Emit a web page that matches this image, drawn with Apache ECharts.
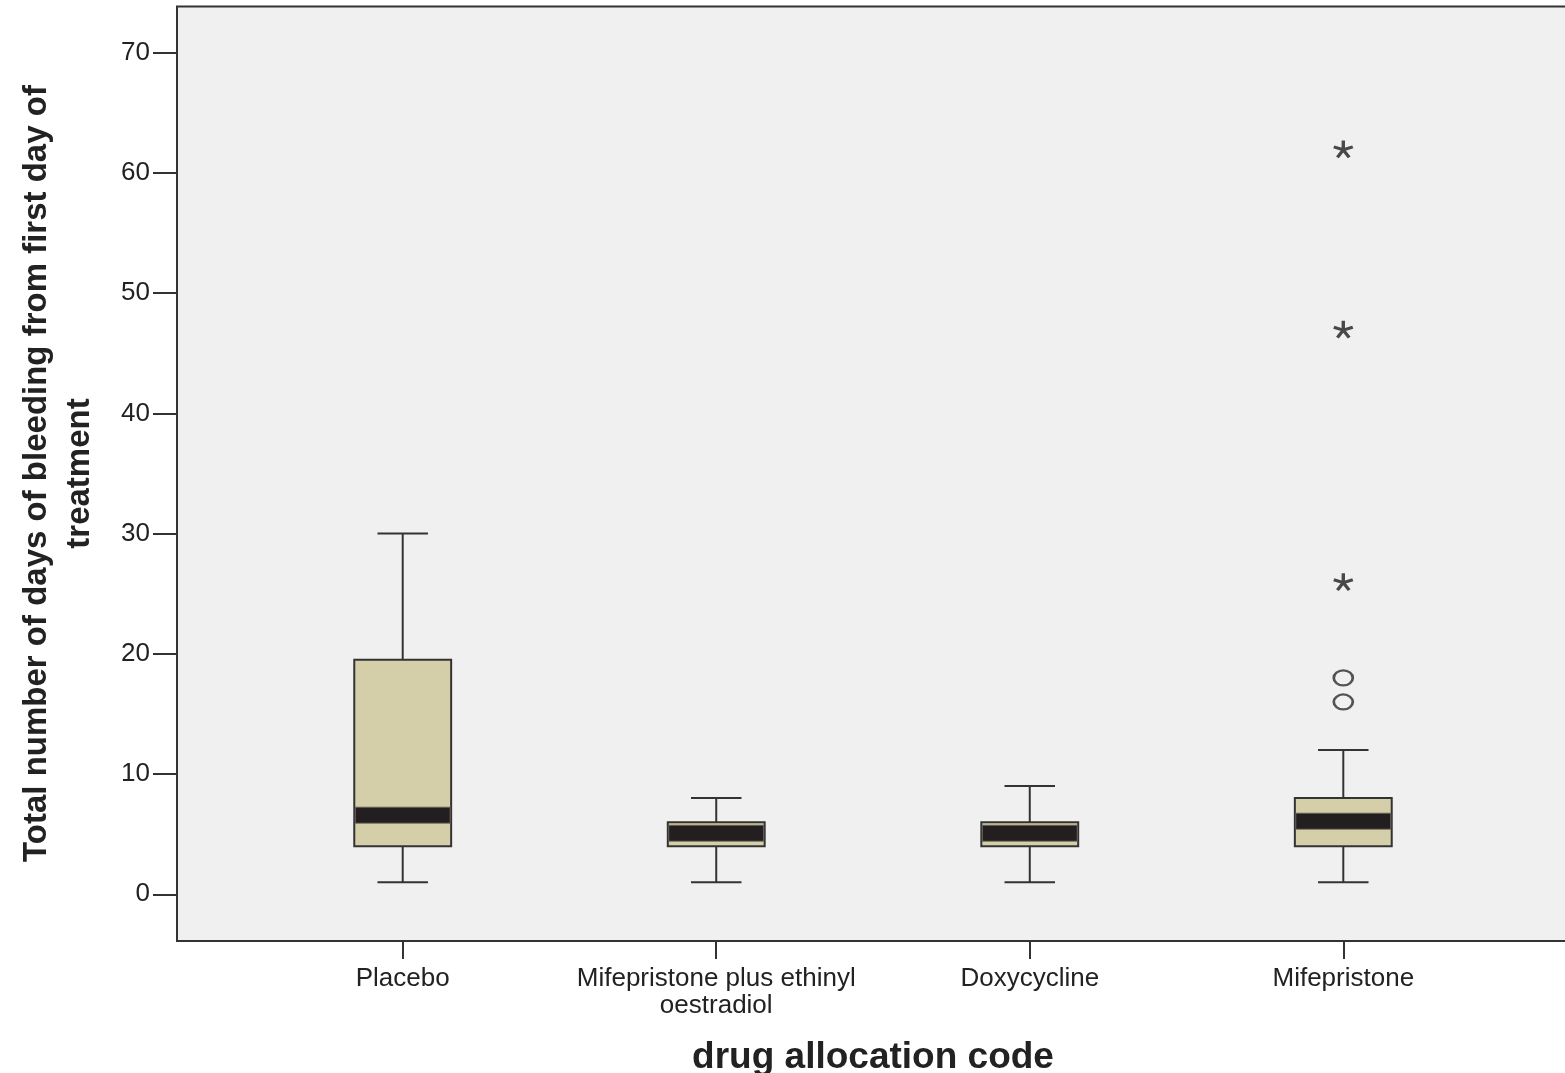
<!DOCTYPE html>
<html>
<head>
<meta charset="utf-8">
<script src="https://cdn.jsdelivr.net/npm/echarts@6/dist/echarts.min.js"></script>
<style>
  html, body { margin: 0; padding: 0; background: #ffffff; }
  #chart { width: 1565px; height: 1073px; }
</style>
</head>
<body>
<div id="chart"></div>
<script>
// ---- data ----
const categories = ['Placebo', 'Mifepristone plus ethinyl\noestradiol', 'Doxycycline', 'Mifepristone'];
const whiskerLow = [1, 1, 1, 1];
const q1 = [4, 4, 4, 4];
const median = [6.5, 5, 5, 6];
const q3 = [19.5, 6, 6, 8];
const whiskerHigh = [30, 8, 9, 12];
// outliers (category index, value)
const outlierCircles = [[3, 18], [3, 16]];
const outlierStars = [[3, 26], [3, 47], [3, 62]];
const yTicks = { min: 0, max: 70, interval: 10 };

const boxData = categories.map((c, i) => [i, whiskerLow[i], q1[i], median[i], q3[i], whiskerHigh[i]]);

const LINE = '#333333';
const TEXT = '#222222';
const FONT = '"Liberation Sans", Arial, sans-serif';

function renderBox(params, api) {
  const x = api.value(0);
  const pLow = api.coord([x, api.value(1)]);
  const pQ1 = api.coord([x, api.value(2)]);
  const pMed = api.coord([x, api.value(3)]);
  const pQ3 = api.coord([x, api.value(4)]);
  const pHigh = api.coord([x, api.value(5)]);
  const band = api.size([1, 0])[0];
  const boxW = band * 0.309;
  const capW = band * 0.161;
  const cx = pLow[0];
  const ls = { stroke: LINE, lineWidth: 2 };
  return {
    type: 'group',
    children: [
      { type: 'line', shape: { x1: cx, y1: pLow[1], x2: cx, y2: pQ1[1] }, style: ls },
      { type: 'line', shape: { x1: cx, y1: pQ3[1], x2: cx, y2: pHigh[1] }, style: ls },
      { type: 'line', shape: { x1: cx - capW / 2, y1: pLow[1], x2: cx + capW / 2, y2: pLow[1] }, style: ls },
      { type: 'line', shape: { x1: cx - capW / 2, y1: pHigh[1], x2: cx + capW / 2, y2: pHigh[1] }, style: ls },
      { type: 'rect', shape: { x: cx - boxW / 2, y: pQ3[1], width: boxW, height: pQ1[1] - pQ3[1] },
        style: { fill: '#d5cfa9', stroke: LINE, lineWidth: 2 } },
      { type: 'rect', shape: { x: cx - boxW / 2 + 1, y: pMed[1] - 9, width: boxW - 2, height: 16 },
        style: { fill: '#231f20', stroke: '#6b6658', lineWidth: 0.8 } }
    ]
  };
}

const starPath = 'path://M10,10L10,0M10,10L19.51,6.91M10,10L15.88,18.09M10,10L4.12,18.09M10,10L0.49,6.91';
const ellipsePath = 'path://M0,8A10,8,0,1,0,20,8A10,8,0,1,0,0,8Z';

const gridCommon = { containLabel: false, outerBoundsMode: 'none' };

const chart = echarts.init(document.getElementById('chart'), null, { renderer: 'canvas' });
chart.setOption({
  backgroundColor: '#ffffff',
  animation: false,
  grid: [
    Object.assign({ left: 245.95, right: 64.95, top: 52.7, bottom: 178.7, show: false }, gridCommon),
    Object.assign({ left: 177, right: -4, top: 6.5, bottom: 132, show: true, backgroundColor: '#f0f0f0',
      borderColor: LINE, borderWidth: 2, z: 0 }, gridCommon),
    Object.assign({ left: 245.95, right: 64.95, top: 6.5, bottom: 132, show: false }, gridCommon)
  ],
  xAxis: [
    {
      type: 'category', gridIndex: 0, data: categories, boundaryGap: true,
      axisLine: { show: false }, axisTick: { show: false }, axisLabel: { show: false },
      splitLine: { show: false }
    },
    {
      type: 'value', gridIndex: 1, min: 0, max: 1,
      axisLine: { show: false }, axisTick: { show: false }, axisLabel: { show: false }, splitLine: { show: false },
      name: 'drug allocation code', nameLocation: 'middle', nameGap: 97,
      nameTextStyle: { fontSize: 37, fontWeight: 'bold', color: TEXT, fontFamily: FONT, lineHeight: 40 }
    },
    {
      type: 'category', gridIndex: 2, data: categories, boundaryGap: true,
      axisLine: { show: false },
      axisTick: { show: true, alignWithLabel: true, length: 18, lineStyle: { color: LINE, width: 2 } },
      axisLabel: { fontSize: 26, color: TEXT, fontFamily: FONT, margin: 24, lineHeight: 27, interval: 0 },
      splitLine: { show: false }
    }
  ],
  yAxis: [
    {
      type: 'value', gridIndex: 0, min: yTicks.min, max: yTicks.max, interval: yTicks.interval, offset: 68.95,
      axisLine: { show: false },
      axisTick: { show: true, length: 24, lineStyle: { color: LINE, width: 2 } },
      axisLabel: { fontSize: 26, color: TEXT, fontFamily: FONT, margin: 27 },
      splitLine: { show: false },
      name: 'Total number of days of bleeding from first day of\ntreatment',
      nameLocation: 'middle', nameGap: 76,
      nameTextStyle: { fontSize: 33, fontWeight: 'bold', color: TEXT, fontFamily: FONT, lineHeight: 43, align: 'center' }
    },
    { type: 'value', gridIndex: 1, show: false, min: 0, max: 1 },
    { type: 'value', gridIndex: 2, show: false, min: 0, max: 1 }
  ],
  series: [
    {
      type: 'custom', xAxisIndex: 0, yAxisIndex: 0, renderItem: renderBox,
      encode: { x: 0, y: [1, 2, 3, 4, 5] }, data: boxData, z: 3
    },
    {
      type: 'scatter', xAxisIndex: 0, yAxisIndex: 0, data: outlierCircles,
      symbol: ellipsePath, symbolSize: [19, 15],
      itemStyle: { color: 'rgba(0,0,0,0)', borderColor: '#2a2a2a', borderWidth: 2.4 }, z: 4
    },
    {
      type: 'scatter', xAxisIndex: 0, yAxisIndex: 0, data: outlierStars,
      symbol: starPath, symbolSize: [19, 17],
      itemStyle: { color: 'rgba(0,0,0,0)', borderColor: '#1e1e1e', borderWidth: 3.2 }, z: 4
    }
  ]
});
</script>
</body>
</html>
